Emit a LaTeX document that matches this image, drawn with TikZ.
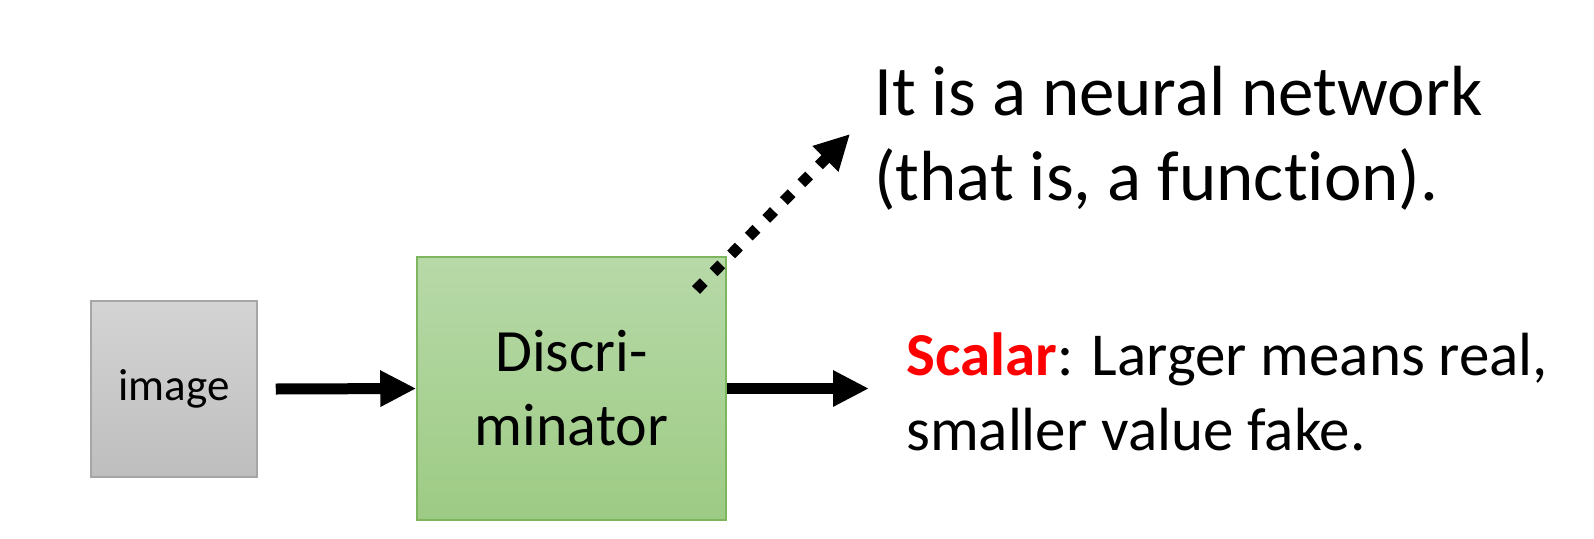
\documentclass[tikz,border=0pt]{standalone}
\usepackage{fontspec}
\setmainfont{Carlito}[Ligatures=NoCommon]
\usetikzlibrary{arrows.meta}
\definecolor{grayTop}{RGB}{212,212,212}
\definecolor{grayBot}{RGB}{190,190,190}
\definecolor{grayLine}{RGB}{166,166,166}
\definecolor{greenTop}{RGB}{183,217,168}
\definecolor{greenBot}{RGB}{157,203,132}
\definecolor{greenLine}{RGB}{126,181,95}
\definecolor{scalarRed}{RGB}{255,0,0}
\tikzset{
  imgbox/.style={draw=grayLine, line width=1.5pt, top color=grayTop, bottom color=grayBot,
    minimum width=166pt, minimum height=176pt, inner sep=0pt, font=\fontsize{45}{54}\selectfont},
  discbox/.style={draw=greenLine, line width=1.5pt, top color=greenTop, bottom color=greenBot,
    minimum width=309pt, minimum height=263pt, inner sep=0pt, align=center,
    font=\fontsize{60}{74}\selectfont},
  bigarrow/.style={line width=11pt, -{Triangle[length=36pt,width=34pt]}},
  dotarrow/.style={line width=11pt, dash pattern=on 11pt off 14pt, -{Triangle[length=35pt,width=34pt]}},
  label/.style={anchor=base west, inner sep=0pt, align=left},
}
\begin{document}
\begin{tikzpicture}[x=1pt,y=-1pt]
\useasboundingbox[fill=white] (0,0) rectangle (1594,538);
\node[imgbox] (img) at (174,389) {image};
\node[discbox] (disc) at (571.5,388.5) {Discri-\\minator};
\coordinate (out) at (869,388.5);
\draw[bigarrow] ([xshift=18pt]img.east) -- (disc.west);
\draw[bigarrow] (disc.east) -- (out);
\coordinate (ds) at (696,290);
\coordinate (dt) at (850,134);
\draw[dotarrow] (ds) -- (dt);
\node[label, font=\fontsize{71}{85}\selectfont] (nn) at (874,200) {It is a neural network\\(that is, a function).};
\node[label, font=\fontsize{61}{75}\selectfont] (sc) at (906,450) {\textcolor{scalarRed}{\textbf{Scalar}}: Larger means real,\\smaller value fake.};
\end{tikzpicture}
\end{document}
